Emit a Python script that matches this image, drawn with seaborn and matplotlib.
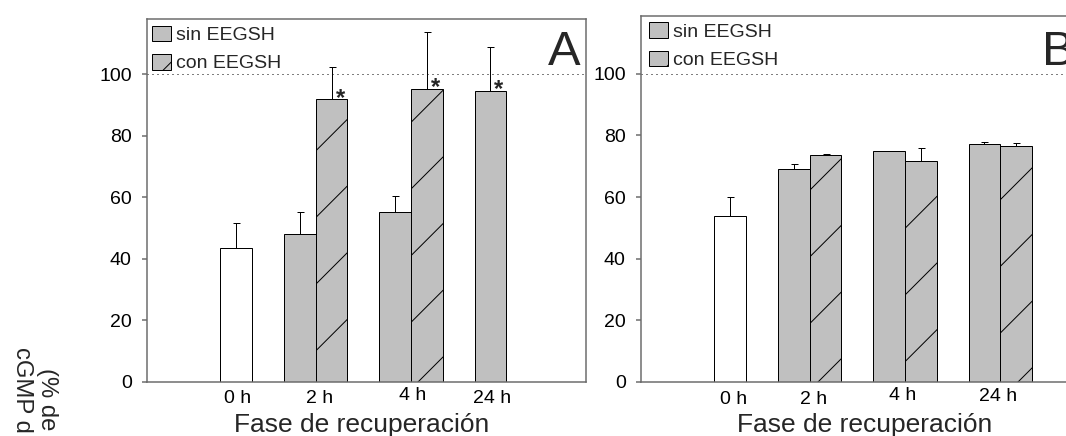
import numpy as np
import pandas as pd
import matplotlib
matplotlib.use("Agg")
import matplotlib.pyplot as plt
from matplotlib.patches import Patch
import seaborn as sns

# ---- data -------------------------------------------------------------
tiempos = ["0 h", "2 h", "4 h", "24 h"]
grupos = ["sin EEGSH", "con EEGSH"]

# Panel A
control_a = 43.4
control_a_err = 8.3
sin_a = [47.9, 55.1, 94.5]
sin_a_err = [7.4, 5.3, 14.2]
con_a = [91.8, 95.2, np.nan]
con_a_err = [10.5, 18.6, np.nan]
sig_sin_a = [False, False, True]
sig_con_a = [True, True, False]

# Panel B
control_b = 53.9
control_b_err = 6.2
sin_b = [69.0, 74.8, 77.3]
sin_b_err = [1.7, 0.2, 0.7]
con_b = [73.6, 71.7, 76.5]
con_b_err = [0.4, 4.1, 1.0]
sig_sin_b = [False, False, False]
sig_con_b = [False, False, False]

referencia = 100
yticks = [0, 20, 40, 60, 80, 100]

# ---- style ------------------------------------------------------------
DPI = 200
PX = 72.0 / DPI          # one pixel in points
GRIS = "#c0c0c0"
EJE = "#6a6a6a"

sns.set_style("ticks")
plt.rcParams["font.family"] = ["Liberation Sans", "DejaVu Sans"]
plt.rcParams["hatch.linewidth"] = 1.0 * PX
plt.rcParams["hatch.color"] = "black"

fig = plt.figure(figsize=(1066 / DPI, 436 / DPI), dpi=DPI)
W, H = 1066.0, 436.0


def panel(rect, ylim_top, control, control_err, sin, sin_err, con, con_err,
          sig_sin, sig_con, letra, tick_x, tick_pads, leg_dx, xlabel_x):
    left, top, width, bottom = rect
    ax = fig.add_axes([left / W, 1 - bottom / H, width / W, (bottom - top) / H])

    filas = [(0.0, control, control_err, "control")]
    for i in range(3):
        filas.append((3 * i + 2.0, sin[i], sin_err[i], "sin"))
        filas.append((3 * i + 3.0, con[i], con_err[i], "con"))
    df = pd.DataFrame(filas, columns=["pos", "valor", "err", "grupo"]).dropna()

    sns.barplot(data=df, x="pos", y="valor", hue="grupo",
                hue_order=["control", "sin", "con"],
                palette={"control": "white", "sin": GRIS, "con": GRIS},
                dodge=False, native_scale=True, width=1.0,
                edgecolor="black", linewidth=1.0 * PX,
                errorbar=None, legend=False, ax=ax)

    con_pos = set(df.loc[df.grupo == "con", "pos"].round().astype(int))
    for p in ax.patches:
        c = int(round(p.get_x() + p.get_width() / 2))
        if c in con_pos:
            p.set_hatch("/")

    ax.errorbar(df["pos"], df["valor"],
                yerr=[np.zeros(len(df)), df["err"].to_numpy()],
                fmt="none", ecolor="black", elinewidth=1.0 * PX,
                capsize=3.5 * PX, capthick=1.0 * PX, zorder=3)

    # significance marks
    for i in range(3):
        for flag, vals, off in ((sig_sin[i], sin, 2), (sig_con[i], con, 3)):
            if flag:
                ax.text(3 * i + off + 0.27, vals[i] - 1.7, "*", ha="center",
                        va="baseline", fontsize=8.6, fontweight="bold")

    ax.axhline(referencia, color="black", lw=1.0 * PX,
               linestyle=(0, (1, 4)), zorder=0.5)

    ax.set_xlim(-2.82, 11.0)
    ax.set_ylim(0, ylim_top)
    ax.set_yticks(yticks)
    ax.set_yticklabels([str(v) for v in yticks])
    ax.set_xticks(tick_x)
    ax.set_xticklabels(tiempos)
    ax.tick_params(axis="y", direction="out", length=5 * PX, width=1.5 * PX,
                   color=EJE, pad=10 * PX, labelsize=7, labelcolor="black")
    ax.tick_params(axis="x", length=0, labelsize=7, labelcolor="black")
    for t, p in zip(ax.xaxis.get_major_ticks(), tick_pads):
        t.set_pad(p * PX)
    for s in ax.spines.values():
        s.set_color(EJE)
        s.set_linewidth(1.5 * PX)
        s.set_visible(True)
    ax.set_ylabel("")
    ax.set_xlabel("Fase de recuperación", fontsize=9.5)
    ax.xaxis.label.set_va("baseline")
    ax.xaxis.set_label_coords(xlabel_x, -50.0 / (bottom - top))

    handles = [Patch(facecolor=GRIS, edgecolor="black", lw=1.0 * PX,
                     label=grupos[0]),
               Patch(facecolor=GRIS, edgecolor="black", lw=1.0 * PX,
                     hatch="//", label=grupos[1])]
    ax.legend(handles=handles, loc="upper left",
              bbox_to_anchor=(leg_dx / width, 1.0), borderaxespad=0,
              borderpad=0.34, frameon=False, fontsize=7,
              handlelength=0.98, handleheight=0.85, handletextpad=0.25,
              labelspacing=0.51)

    ax.text(1 - 5.0 / width, (bottom - 65.0) / (bottom - top), letra,
            transform=ax.transAxes, ha="right", va="baseline", fontsize=17.6)
    return ax


panel((146.7, 19.0, 439.0, 381.7), 117.9, control_a, control_a_err,
      sin_a, sin_a_err, con_a, con_a_err, sig_sin_a, sig_con_a, "A",
      [0.04, 2.63, 5.56, 8.06], [8.7, 8.7, 5.7, 8.7],
      -1.0, 0.4896)
panel((640.7, 15.7, 439.0, 381.7), 118.9, control_b, control_b_err,
      sin_b, sin_b_err, con_b, con_b_err, sig_sin_b, sig_con_b, "B",
      [0.1, 2.62, 5.43, 8.42], [9.3, 9.3, 5.7, 6.7],
      2.0, 0.5094)

# axis title, drawn reading downward
fig.text(46.5 / W, 1 - 368.3 / H, "(% de", rotation=-90, rotation_mode="anchor",
         ha="left", va="center", fontsize=8.6)
fig.text(22.0 / W, 1 - 346.7 / H, "cGMP d", rotation=-90, rotation_mode="anchor",
         ha="left", va="center", fontsize=8.6)

fig.savefig("out.png", dpi=DPI)
